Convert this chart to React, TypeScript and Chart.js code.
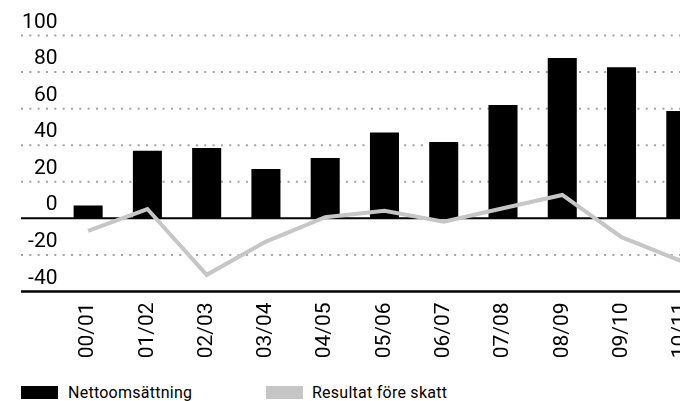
import React, { useEffect, useRef } from "react";
import { Chart, registerables } from "chart.js";

Chart.register(...registerables);

const categories = ["00/01", "01/02", "02/03", "03/04", "04/05", "05/06", "06/07", "07/08", "08/09", "09/10", "10/11"];
const nettoomsattning = [7, 37, 38.5, 27, 33, 47, 41.7, 62, 87.7, 82.7, 58.7];
const resultat = [-6.9, 5.1, -30.9, -12.7, 0.6, 4.2, -1.8, 5.5, 12.8, -10.3, -23.3];
const yTickValues = [-40, -20, 0, 20, 40, 60, 80, 100];
const yTickLabels = ["-40", "-20", "0", "20", "40", "60", "80", "100"];
const seriesNames = ["Nettoomsättning", "Resultat före skatt"];

const FONT = "Roboto, 'DejaVu Sans', sans-serif";
const GRID_LEFT = 21;
const LABEL_RIGHT = 57.5;

const gridPlugin = {
  id: "customGrid",
  beforeDatasetsDraw(chart: any) {
    const { ctx, chartArea, scales } = chart;
    const y = scales.y;
    ctx.save();
    yTickValues.forEach((v, i) => {
      const py = y.getPixelForValue(v);
      ctx.beginPath();
      if (v === 0 || v === -40) {
        ctx.setLineDash([]);
        ctx.strokeStyle = "#000";
        ctx.lineWidth = v === -40 ? 2.5 : 2;
      } else {
        ctx.setLineDash([2, 6.33]);
        ctx.strokeStyle = "#a3a3a3";
        ctx.lineWidth = 2;
      }
      ctx.moveTo(GRID_LEFT, py);
      ctx.lineTo(chartArea.right, py);
      ctx.stroke();
      ctx.setLineDash([]);
      ctx.fillStyle = "#000";
      ctx.font = `21px ${FONT}`;
      ctx.textAlign = "right";
      ctx.textBaseline = "alphabetic";
      ctx.fillText(yTickLabels[i], LABEL_RIGHT, py - 8);
    });
    ctx.restore();
  },
};

export default function App() {
  const ref = useRef<HTMLCanvasElement | null>(null);

  useEffect(() => {
    if (!ref.current) return;
    const chart = new Chart(ref.current, {
      type: "bar",
      data: {
        labels: categories,
        datasets: [
          {
            type: "bar",
            label: seriesNames[0],
            data: nettoomsattning,
            backgroundColor: "#000",
            barPercentage: 0.49,
            categoryPercentage: 1,
            order: 2,
          },
          {
            type: "line",
            label: seriesNames[1],
            data: resultat,
            borderColor: "#c6c6c6",
            borderWidth: 4,
            pointRadius: 0,
            tension: 0,
            fill: false,
            order: 1,
          } as any,
        ],
      },
      options: {
        responsive: false,
        animation: false,
        layout: { padding: { top: 35.5, left: 0, right: 0, bottom: 0 } },
        plugins: { legend: { display: false }, tooltip: { enabled: false } },
        scales: {
          x: {
            grid: { display: false, drawTicks: false },
            border: { display: false },
            ticks: {
              autoSkip: false,
              maxRotation: 90,
              minRotation: 90,
              padding: 11,
              color: "#000",
              font: { family: FONT, size: 21 },
            },
            afterFit: (s: any) => {
              s.height = 80.5;
            },
          },
          y: {
            min: -40,
            max: 100,
            ticks: { stepSize: 20, display: false },
            grid: { display: false, drawTicks: false },
            border: { display: false },
            afterFit: (s: any) => {
              s.width = 58.5;
            },
          },
        },
      },
      plugins: [gridPlugin],
    });
    return () => chart.destroy();
  }, []);

  const textStyle: React.CSSProperties = {
    position: "absolute",
    top: 384.5,
    fontFamily: FONT,
    fontSize: 16,
    lineHeight: "16px",
    letterSpacing: "0.25px",
    color: "#000",
    whiteSpace: "nowrap",
  };

  return (
    <div
      style={{
        position: "fixed",
        left: 0,
        top: 0,
        width: 680,
        height: 401,
        overflow: "hidden",
        background: "#fff",
      }}
    >
      <canvas ref={ref} width={717} height={372} style={{ position: "absolute", left: 0, top: 0, width: 717, height: 372 }} />
      <div style={{ position: "absolute", left: 21, top: 386, width: 37, height: 13, background: "#000" }} />
      <div style={{ ...textStyle, left: 68 }}>{seriesNames[0]}</div>
      <div style={{ position: "absolute", left: 266, top: 386, width: 37, height: 13, background: "#c6c6c6" }} />
      <div style={{ ...textStyle, left: 312 }}>{seriesNames[1]}</div>
    </div>
  );
}
